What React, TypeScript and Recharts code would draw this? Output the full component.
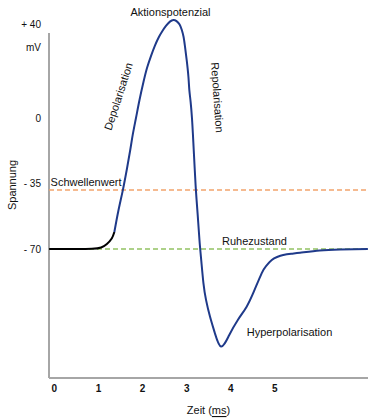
import { LineChart, Line, XAxis, YAxis, ReferenceLine, ReferenceDot } from "recharts"

// time in ms, membrane voltage in mV
const restTime = [-0.12, 0.47, 0.85, 1.06, 1.19, 1.3, 1.36]
const restVoltage = [-70, -70, -69.9, -69.2, -67.3, -64.4, -60.9]

const spikeTime = [
  1.36, 1.45, 1.55, 1.64, 1.72, 1.78, 1.85, 1.93, 2.02, 2.1, 2.19, 2.28, 2.37, 2.45, 2.53, 2.62, 2.7, 2.77,
  2.84, 2.89, 2.93, 2.96, 3.0, 3.04, 3.06, 3.09, 3.12, 3.14, 3.16, 3.18, 3.21, 3.25, 3.29, 3.33, 3.38, 3.44,
  3.53, 3.64, 3.78, 3.96, 4.16, 4.36, 4.53, 4.7, 4.8, 4.93, 5.05, 5.19, 5.37, 5.57, 6.02, 6.48, 7.11,
]
const spikeVoltage = [
  -60.9, -49.7, -38.8, -27.8, -17.1, -8.5, 0, 9.6, 19.2, 26.7, 33.1, 38.7, 43.3, 46.5, 49.2, 51.5, 52.4, 51.8,
  50, 47, 43.3, 38.5, 31, 21.9, 15, 8.5, 0, -8, -17.1, -26.2, -38.8, -51.8, -65.2, -75.9, -88.2, -97.3,
  -106.2, -115, -122.1, -116.2, -107.9, -100.8, -92.4, -83, -79.1, -75.9, -74.3, -73.2, -72.5, -72, -70.8, -70.3, -70,
]

const xTicks = [0, 1, 2, 3, 4, 5]
const yTicks = [40, 0, -35, -70]
const threshold = -38.5
const resting = -70

const xDomain = [-0.1225, 7.1125]
const yDomain = [-138.93, 59.85]
const yAxisTop = 45.4

const restData = restTime.map((t, i) => ({ t, v: restVoltage[i] }))
const spikeData = spikeTime.map((t, i) => ({ t, v: spikeVoltage[i] }))

const font = "'Liberation Sans', Arial, sans-serif"
const ink = "#111"

const note = (text: string, angle = 0) => ({
  content: (p: any) => {
    const vb = p.viewBox
    const cx = vb.x + vb.width / 2
    const cy = vb.y + vb.height / 2
    return (
      <text
        x={cx}
        y={cy}
        textAnchor="middle"
        dominantBaseline="central"
        fontSize={11}
        fontFamily={font}
        fill={ink}
        transform={angle ? `rotate(${angle} ${cx} ${cy})` : undefined}
      >
        {text}
      </text>
    )
  },
})

const labels = [
  { t: 2.633, v: 56.6, text: "Aktionspotenzial", angle: 0 },
  { t: 0.717, v: -34.0, text: "Schwellenwert", angle: 0 },
  { t: 4.538, v: -65.7, text: "Ruhezustand", angle: 0 },
  { t: 5.332, v: -114.1, text: "Hyperpolarisation", angle: 0 },
  { t: 1.45, v: 11.6, text: "Depolarisation", angle: -72 },
  { t: 3.699, v: 11.0, text: "Repolarisation", angle: 86 },
]

function YTick(props: any) {
  const { x, y, payload } = props
  const val = payload.value
  if (val === 40) {
    return (
      <g fontSize={10} fontFamily={font} fill={ink}>
        <text x={x} y={y - 19} textAnchor="end" dominantBaseline="central">+ 40</text>
        <text x={x} y={y + 4} textAnchor="end" dominantBaseline="central">mV</text>
      </g>
    )
  }
  const txt = val === 0 ? "0" : `- ${Math.abs(val)}`
  return (
    <text x={x} y={y} textAnchor="end" dominantBaseline="central" fontSize={10} fontFamily={font} fill={ink}>
      {txt}
    </text>
  )
}

export default function App() {
  return (
    <div style={{ width: 375, height: 420 }}>
      <style>{`body{margin:0}`}</style>
      <LineChart width={375} height={420} margin={{ top: 6, right: 7, bottom: 0, left: 0 }}>
        <XAxis
          type="number"
          dataKey="t"
          domain={xDomain}
          allowDataOverflow
          ticks={xTicks}
          tickLine={false}
          tickSize={4}
          tickMargin={3}
          height={42}
          axisLine={{ stroke: "#a6a6a6", strokeWidth: 2 }}
          tick={{ fontSize: 10, fontWeight: 700, fill: ink, fontFamily: font }}
          label={{
            content: (p: any) => {
              const vb = p.viewBox
              return (
                <text
                  x={vb.x + vb.width / 2}
                  y={vb.y + vb.height - 10}
                  textAnchor="middle"
                  dominantBaseline="central"
                  fontSize={11}
                  fontFamily={font}
                  fill={ink}
                >
                  Zeit (<tspan style={{ textDecoration: "underline wavy #e03030" }}>ms</tspan>)
                </text>
              )
            },
          }}
        />
        <YAxis
          type="number"
          dataKey="v"
          domain={yDomain}
          allowDataOverflow
          ticks={yTicks}
          width={49}
          axisLine={false}
          tickLine={false}
          tickSize={6}
          tickMargin={2}
          tick={<YTick />}
          label={{
            content: (p: any) => {
              const vb = p.viewBox
              const cx = vb.x + 12
              const cy = vb.y + vb.height / 2 - 7
              return (
                <text
                  x={cx}
                  y={cy}
                  textAnchor="middle"
                  dominantBaseline="central"
                  fontSize={11}
                  fontFamily={font}
                  fill={ink}
                  transform={`rotate(-90 ${cx} ${cy})`}
                >
                  Spannung
                </text>
              )
            },
          }}
        />
        <ReferenceLine
          segment={[
            { x: xDomain[0], y: yDomain[0] },
            { x: xDomain[0], y: yAxisTop },
          ]}
          stroke="#a6a6a6"
          strokeWidth={2}
        />
        <ReferenceLine y={threshold} stroke="#f2a46c" strokeWidth={1.5} strokeDasharray="5 3" />
        <ReferenceLine y={resting} stroke="#93c263" strokeWidth={1.5} strokeDasharray="5 3" />
        <Line
          data={restData}
          dataKey="v"
          type="natural"
          stroke="#000"
          strokeWidth={2}
          dot={false}
          isAnimationActive={false}
        />
        <Line
          data={spikeData}
          dataKey="v"
          type="natural"
          stroke="#1f3a8a"
          strokeWidth={2}
          dot={false}
          isAnimationActive={false}
        />
        {labels.map((l) => (
          <ReferenceDot
            key={l.text}
            x={l.t}
            y={l.v}
            r={0}
            fill="none"
            stroke="none"
            ifOverflow="visible"
            label={note(l.text, l.angle)}
          />
        ))}
      </LineChart>
    </div>
  )
}
